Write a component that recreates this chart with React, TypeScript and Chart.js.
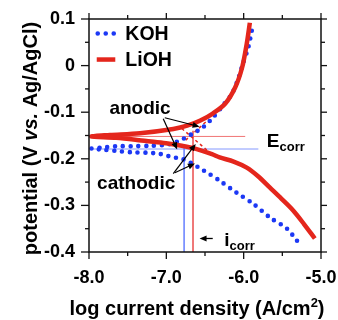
import { useEffect, useRef } from 'react';
import { Chart, registerables } from 'chart.js';

Chart.register(...registerables);

// ---- data (log current density, potential V vs Ag/AgCl) ----
const kohLogI = [-5.31, -5.44, -5.66, -5.88, -6.09, -6.31, -6.45, -6.55, -6.67, -6.8, -6.91, -7.0, -7.1, -7.25, -7.45, -7.65, -7.85, -7.97,
  -7.85, -7.65, -7.45, -7.2, -7.0, -6.9, -6.78, -6.66, -6.53, -6.4, -6.27, -6.15, -6.07, -6.01, -5.94, -5.89];
const kohE = [-0.376, -0.35, -0.326, -0.296, -0.273, -0.247, -0.232, -0.222, -0.21, -0.2, -0.197, -0.193, -0.189, -0.187, -0.186, -0.183, -0.18, -0.178,
  -0.176, -0.173, -0.173, -0.172, -0.17, -0.166, -0.157, -0.146, -0.133, -0.112, -0.086, -0.06, -0.028, 0.004, 0.039, 0.079];

const liohLogI = [-5.08, -5.22, -5.36, -5.51, -5.66, -5.81, -5.96, -6.13, -6.31, -6.41, -6.63, -6.8, -6.98, -7.2, -7.4, -7.65, -7.97,
  -7.73, -7.34, -6.91, -6.73, -6.56, -6.4, -6.24, -6.11, -6.02, -5.96, -5.92];
const liohE = [-0.371, -0.34, -0.311, -0.286, -0.262, -0.238, -0.219, -0.206, -0.197, -0.19, -0.178, -0.172, -0.167, -0.163, -0.159, -0.155, -0.152,
  -0.149, -0.145, -0.136, -0.129, -0.118, -0.103, -0.082, -0.047, -0.004, 0.047, 0.092];

// corrosion values
const ecorrLiOH = -0.152;
const ecorrKOH = -0.179;
const icorrLiOH = -6.655;
const icorrKOH = -6.77;

// Tafel extrapolations (LiOH)
const tafelAnodicLogI = [-6.75, -6.47];
const tafelAnodicE = [-0.16, -0.118];
const tafelCathodicLogI = [-6.8, -6.45];
const tafelCathodicE = [-0.135, -0.185];

// axis ranges
const xMin = -8.0, xMax = -5.0, xStep = 0.5;
const yMin = -0.4, yMax = 0.1, yStep = 0.05;

// annotations (data coordinates)
const anodicLabel = { text: 'anodic', x: -7.34, y: -0.092 };
const cathodicLabel = { text: 'cathodic', x: -7.39, y: -0.253 };
const anodicArrows = [
  [[-7.02, -0.112], [-6.57, -0.131]],
  [[-7.04, -0.114], [-6.86, -0.180]],
];
const cathodicArrows = [
  [[-6.91, -0.232], [-6.62, -0.168]],
  [[-6.89, -0.23], [-6.63, -0.210]],
];
const ecorrLabelPos = { x: -5.7, y: -0.163 };
const icorrLabelPos = { x: -6.25, y: -0.375 };
const icorrArrow = [[-6.4, -0.371], [-6.57, -0.371]];
const legendItems = [
  { label: 'KOH', y: 0.069 },
  { label: 'LiOH', y: 0.013 },
];
const legendX = [-7.9, -7.66, -7.53];

const RED = 'rgb(228,38,28)';
const BLUE = 'rgb(28,56,245)';
const RED_THIN = 'rgba(236,90,90,0.85)';
const BLUE_THIN = 'rgba(110,135,255,0.85)';
const FONT = '"Liberation Sans", Arial, sans-serif';

const zip = (xs: number[], ys: number[]) => xs.map((v, i) => ({ x: v, y: ys[i] }));

type Run = { t: string; size: number; italic?: boolean; dy?: number };

function drawRuns(ctx: CanvasRenderingContext2D, runs: Run[], x: number, y: number, align: 'center' | 'left') {
  const font = (r: Run) => `${r.italic ? 'italic ' : ''}bold ${r.size}px ${FONT}`;
  let total = 0;
  for (const r of runs) {
    ctx.font = font(r);
    total += ctx.measureText(r.t).width;
  }
  let cx = align === 'center' ? x - total / 2 : x;
  ctx.textAlign = 'left';
  ctx.textBaseline = 'middle';
  for (const r of runs) {
    ctx.font = font(r);
    ctx.fillText(r.t, cx, y + (r.dy || 0));
    cx += ctx.measureText(r.t).width;
  }
}

function arrow(ctx: CanvasRenderingContext2D, x1: number, y1: number, x2: number, y2: number) {
  const ang = Math.atan2(y2 - y1, x2 - x1);
  const hl = 7, hw = 3;
  ctx.beginPath();
  ctx.moveTo(x1, y1);
  ctx.lineTo(x2 - Math.cos(ang) * hl * 0.8, y2 - Math.sin(ang) * hl * 0.8);
  ctx.stroke();
  ctx.beginPath();
  ctx.moveTo(x2, y2);
  ctx.lineTo(x2 - Math.cos(ang) * hl - Math.sin(ang) * hw, y2 - Math.sin(ang) * hl + Math.cos(ang) * hw);
  ctx.lineTo(x2 - Math.cos(ang) * hl + Math.sin(ang) * hw, y2 - Math.sin(ang) * hl - Math.cos(ang) * hw);
  ctx.closePath();
  ctx.fill();
}

const overlay = {
  id: 'overlay',
  afterDatasetsDraw(chart: any) {
    const { ctx, scales } = chart;
    const X = (v: number) => scales.x.getPixelForValue(v);
    const Y = (v: number) => scales.y.getPixelForValue(v);
    ctx.save();
    ctx.fillStyle = '#000';
    ctx.strokeStyle = '#000';

    // legend
    legendItems.forEach((it, i) => {
      ctx.save();
      ctx.lineWidth = i === 0 ? 4.6 : 4.5;
      ctx.lineCap = i === 0 ? 'round' : 'butt';
      ctx.strokeStyle = i === 0 ? BLUE : RED;
      ctx.setLineDash(i === 0 ? [0, 8] : []);
      ctx.beginPath();
      ctx.moveTo(X(legendX[0]) + (i === 0 ? 1 : 0), Y(it.y));
      ctx.lineTo(X(legendX[1]), Y(it.y));
      ctx.stroke();
      ctx.restore();
      drawRuns(ctx, [{ t: it.label, size: 19.5 }], X(legendX[2]), Y(it.y) + 1, 'left');
    });

    // text labels
    drawRuns(ctx, [{ t: anodicLabel.text, size: 19 }], X(anodicLabel.x), Y(anodicLabel.y), 'center');
    drawRuns(ctx, [{ t: cathodicLabel.text, size: 19 }], X(cathodicLabel.x), Y(cathodicLabel.y), 'center');
    drawRuns(ctx, [{ t: 'E', size: 19 }, { t: 'corr', size: 13, dy: 6 }], X(ecorrLabelPos.x), Y(ecorrLabelPos.y), 'left');
    drawRuns(ctx, [{ t: 'i', size: 19 }, { t: 'corr', size: 13, dy: 6 }], X(icorrLabelPos.x), Y(icorrLabelPos.y), 'left');

    // arrows
    ctx.lineWidth = 1.2;
    [...anodicArrows, ...cathodicArrows].forEach(([a, b]) => arrow(ctx, X(a[0]), Y(a[1]), X(b[0]), Y(b[1])));
    ctx.lineWidth = 1.3;
    arrow(ctx, X(icorrArrow[0][0]), Y(icorrArrow[0][1]), X(icorrArrow[1][0]), Y(icorrArrow[1][1]));
    ctx.restore();
  },
  afterDraw(chart: any) {
    const { ctx, chartArea: a, scales } = chart;
    ctx.save();
    ctx.strokeStyle = '#111';
    ctx.lineWidth = 1.5;
    ctx.strokeRect(a.left, a.top, a.right - a.left, a.bottom - a.top);
    ctx.lineWidth = 1.3;
    const seg = (x1: number, y1: number, x2: number, y2: number) => {
      ctx.beginPath(); ctx.moveTo(x1, y1); ctx.lineTo(x2, y2); ctx.stroke();
    };
    scales.x.ticks.forEach((t: any, i: number) => {
      const isMajor = Math.abs(t.value - Math.round(t.value)) < 1e-6;
      const p = scales.x.getPixelForTick(i);
      seg(p, a.bottom, p, a.bottom + (isMajor ? 7 : 4));
      seg(p, a.top, p, a.top - (isMajor ? 6 : 4));
    });
    scales.y.ticks.forEach((t: any, i: number) => {
      const isMajor = Math.round(t.value * 100) % 10 === 0;
      const p = scales.y.getPixelForTick(i);
      seg(a.left, p, a.left - (isMajor ? 8 : 4), p);
      seg(a.right, p, a.right + (isMajor ? 6 : 4), p);
    });

    // axis titles
    ctx.fillStyle = '#000';
    ctx.save();
    ctx.translate(31, (a.top + a.bottom) / 2 + 3);
    ctx.rotate(-Math.PI / 2);
    drawRuns(ctx, [
      { t: 'potential (V ', size: 20 },
      { t: 'vs.', size: 20, italic: true },
      { t: ' Ag/AgCl)', size: 20 },
    ], 0, 0, 'center');
    ctx.restore();
    drawRuns(ctx, [
      { t: 'log current density (A/cm', size: 20 },
      { t: '2', size: 13, dy: -6 },
      { t: ')', size: 20 },
    ], (a.left + a.right) / 2 - 8, 309, 'center');
    ctx.restore();
  },
};

const zeroPad = (s: any) => {
  s.paddingLeft = 0;
  s.paddingRight = 0;
  s.paddingTop = 0;
  s.paddingBottom = 0;
};

export default function App() {
  const ref = useRef<HTMLCanvasElement | null>(null);
  useEffect(() => {
    document.body.style.margin = '0';
    const canvas = ref.current;
    if (!canvas) return;
    const chart = new Chart(canvas, {
      type: 'line',
      data: {
        datasets: [
          {
            label: 'LiOH',
            data: zip(liohLogI, liohE),
            borderColor: RED,
            borderWidth: 4.5,
            pointRadius: 0,
            tension: 0.3,
            fill: false,
          },
          {
            label: 'KOH',
            data: zip(kohLogI, kohE),
            borderColor: BLUE,
            borderWidth: 4.6,
            borderDash: [0, 7.8],
            borderCapStyle: 'round',
            pointRadius: 0,
            tension: 0.3,
            fill: false,
          },
          {
            label: 'tafel-a',
            data: zip(tafelAnodicLogI, tafelAnodicE),
            borderColor: RED,
            borderWidth: 1.5,
            borderDash: [3, 3],
            pointRadius: 0,
          },
          {
            label: 'tafel-c',
            data: zip(tafelCathodicLogI, tafelCathodicE),
            borderColor: RED,
            borderWidth: 1.5,
            borderDash: [3, 3],
            pointRadius: 0,
          },
          {
            label: 'ecorr-lioh',
            data: zip([xMin, -5.98], [ecorrLiOH, ecorrLiOH]),
            borderColor: RED_THIN,
            borderWidth: 1,
            pointRadius: 0,
          },
          {
            label: 'ecorr-koh',
            data: zip([xMin, -5.81], [ecorrKOH, ecorrKOH]),
            borderColor: BLUE_THIN,
            borderWidth: 1,
            pointRadius: 0,
          },
          {
            label: 'icorr-lioh',
            data: zip([icorrLiOH, icorrLiOH], [-0.14, yMin]),
            borderColor: RED_THIN,
            borderWidth: 1,
            pointRadius: 0,
          },
          {
            label: 'icorr-koh',
            data: zip([icorrKOH, icorrKOH], [-0.172, yMin]),
            borderColor: BLUE_THIN,
            borderWidth: 1,
            pointRadius: 0,
          },
        ],
      },
      options: {
        animation: false,
        responsive: true,
        maintainAspectRatio: false,
        layout: { padding: { top: 19, right: 17, left: 0, bottom: 0 } },
        plugins: { legend: { display: false }, tooltip: { enabled: false } },
        scales: {
          x: {
            type: 'linear',
            min: xMin,
            max: xMax,
            grid: { display: false, drawTicks: false },
            border: { display: false },
            ticks: {
              stepSize: xStep,
              autoSkip: false,
              maxRotation: 0,
              padding: 15,
              color: '#000',
              font: { family: FONT, size: 18, weight: 'bold' },
              callback: (v: any) => (Math.abs(v - Math.round(v)) < 1e-6 ? Number(v).toFixed(1) : ''),
            },
            afterFit: (s: any) => { s.height = 68; zeroPad(s); },
          },
          y: {
            type: 'linear',
            min: yMin,
            max: yMax,
            grid: { display: false, drawTicks: false },
            border: { display: false },
            ticks: {
              stepSize: yStep,
              autoSkip: false,
              padding: 14,
              color: '#000',
              font: { family: FONT, size: 18, weight: 'bold' },
              callback: (v: any) => {
                const r = Math.round(v * 100);
                if (r % 10 !== 0) return '';
                return r === 0 ? '0' : (r / 100).toFixed(1);
              },
            },
            afterFit: (s: any) => { s.width = 89; zeroPad(s); },
          },
        },
      } as any,
      plugins: [overlay],
    });
    return () => chart.destroy();
  }, []);
  return (
    <div style={{ width: 338, height: 320, position: 'relative', background: '#fff' }}>
      <canvas ref={ref} />
    </div>
  );
}
